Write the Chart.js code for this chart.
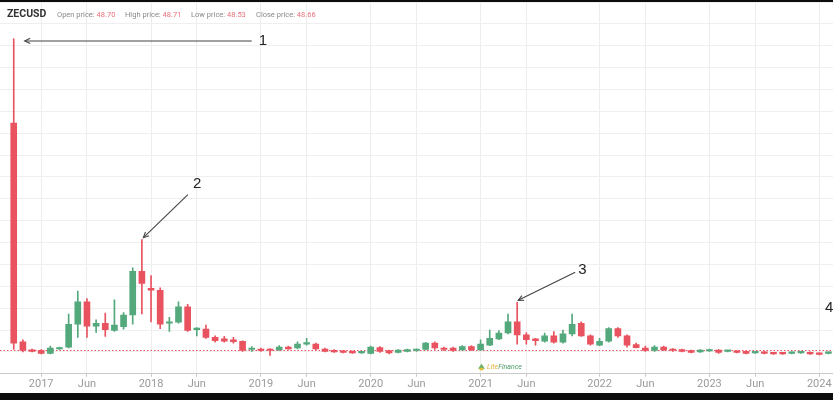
<!DOCTYPE html>
<html>
<head>
<meta charset="utf-8">
<script src="https://cdn.jsdelivr.net/npm/chart.js@4.4.1/dist/chart.umd.min.js"></script>
<style>
html, body { margin: 0; background: #0d0d0d; }
#frame { position: absolute; left: 0; top: 2px; width: 833px; height: 391px; background: #fff; overflow: hidden; }
#chart { position: absolute; left: 0; top: 0; }
#hdr { position: absolute; left: 0; top: 0; width: 100%; height: 20px; font-family: Roboto, sans-serif; z-index: 2; }
#hdr b { position: absolute; left: 7px; top: 5px; font-size: 10.5px; color: #333; }
#hdr span { position: absolute; top: 8px; font-size: 7.5px; color: #8a8a8a; white-space: nowrap; }
#hdr em { font-style: normal; color: #e8727c; }
</style>
</head>
<body>
<div id="frame">
  <canvas id="chart" width="833" height="391"></canvas>
  <div id="hdr"><b>ZECUSD</b></div>
</div>
<script>
// --- Donnees (mensuel, ZECUSD) ---
const months = [
  '2016-09','2016-10','2016-11','2016-12',
  '2017-01','2017-02','2017-03','2017-04','2017-05','2017-06','2017-07','2017-08','2017-09','2017-10','2017-11','2017-12',
  '2018-01','2018-02','2018-03','2018-04','2018-05','2018-06','2018-07','2018-08','2018-09','2018-10','2018-11','2018-12',
  '2019-01','2019-02','2019-03','2019-04','2019-05','2019-06','2019-07','2019-08','2019-09','2019-10','2019-11','2019-12',
  '2020-01','2020-02','2020-03','2020-04','2020-05','2020-06','2020-07','2020-08','2020-09','2020-10','2020-11','2020-12',
  '2021-01','2021-02','2021-03','2021-04','2021-05','2021-06','2021-07','2021-08','2021-09','2021-10','2021-11','2021-12','2021-12b',
  '2022-01','2022-02','2022-03','2022-04','2022-05','2022-06','2022-07','2022-08','2022-09','2022-10','2022-11','2022-12',
  '2023-01','2023-02','2023-03','2023-04','2023-05','2023-06','2023-07','2023-08','2023-09','2023-10','2023-11','2023-12',
  '2024-01','2024-02'
];

const opens = [null,
  516,66,49,48,42,51,55,102,148,98,
  104,89,97,121,211,176,172,104,106,138,
  91,92,75,72,70,67,50,51,51,49,
  55,53,61,61,51,48,47,46,43,42,
  54,48,44,46,48,50,63,52,53,49,
  56,49,59,72,84,107,80,72,67,78,
  65,82,104,78,59,67,93,78,60,53,
  48,55,51,50,48,45,47,49,46,47,
  46,43,45,42,42,42,43,44,42,42];
const highs = [null,
  689,70,51,50,57,55,123,170,155,111,
  125,152,126,218,276,202,177,116,148,143,
  95,100,78,77,75,68,56,53,52,58,
  57,66,73,63,53,50,48,47,46,57,
  56,49,50,51,51,65,66,55,55,58,
  58,70,90,89,123,147,85,73,84,87,
  90,123,107,80,73,95,95,80,63,57,
  58,57,52,51,49,50,51,50,48,48,
  47,46,46,43,43,45,46,45,43,45];
const lows = [null,
  50,45,45,41,41,50,53,75,75,85,
  77,87,92,102,123,107,93,87,104,87,
  78,73,65,65,63,46,46,46,38,48,
  50,51,59,49,45,44,43,42,42,41,
  44,41,43,45,46,49,50,48,46,48,
  48,48,58,70,82,61,61,59,65,63,
  63,78,77,59,58,65,75,55,53,46,
  46,48,46,45,43,44,46,42,45,43,
  41,42,41,40,40,41,42,40,39,41];
const closes = [null,
  63,48,46,42,53,54,102,148,98,104,
  91,100,121,211,186,172,102,107,138,89,
  93,75,68,67,66,48,52,48,48,55,
  51,61,63,51,46,45,44,43,45,55,
  46,43,49,50,49,63,53,50,48,56,
  49,61,73,84,107,80,70,68,78,65,
  82,102,78,61,67,93,78,59,54,48,
  55,49,48,46,44,49,50,44,47,44,
  42,45,42,41,41,44,44,41,40,44];

const tickMonths = ['2017-01','2017-06','2018-01','2018-06','2019-01','2019-06','2020-01','2020-06',
                    '2021-01','2021-06','2022-01','2022-06','2023-01','2023-06','2024-01'];
const tickLabels = ['2017','Jun','2018','Jun','2019','Jun','2020','Jun',
                    '2021','Jun','2022','Jun','2023','Jun','2024'];

const headerLabels = ['Open price:', 'High price:', 'Low price:', 'Close price:'];
const headerValues = ['48.70', '48.71', '48.53', '48.66'];
const headerLeft = [57, 125, 191, 256];
const lastClose = 48.66;

// fleches : mois vise, decalages (px) depuis le plus haut de la bougie
const notes = [
  { label: '1', month: '2016-10', tip: [11, 2], tail: [238, 2], text: [245, 2] },
  { label: '2', month: '2017-12', tip: [1.5, -2], tail: [46, -45], text: [51, -56] },
  { label: '3', month: '2021-05', tip: [1, -2], tail: [58, -30], text: [61, -32] },
  { label: '4', month: '2024-02', tip: null, tail: null, text: [-3.5, -44] }
];

const UP = '#53a97c', DOWN = '#e8535f';
function candleColor(i) { return closes[i] >= opens[i] ? UP : DOWN; }

// --- En-tete ---
const hdr = document.getElementById('hdr');
headerLabels.forEach((l, i) => {
  const s = document.createElement('span');
  s.style.left = headerLeft[i] + 'px';
  s.innerHTML = `${l} <em>${headerValues[i]}</em>`;
  hdr.appendChild(s);
});

// --- Plugins ---
const priceLine = {
  id: 'priceLine',
  beforeDatasetsDraw(chart) {
    const { ctx, chartArea: a, scales: { y } } = chart;
    const py = Math.round(y.getPixelForValue(lastClose)) + 0.5;
    ctx.save();
    ctx.strokeStyle = DOWN; ctx.lineWidth = 1; ctx.setLineDash([1.5, 2]);
    ctx.beginPath(); ctx.moveTo(a.left, py); ctx.lineTo(a.right, py); ctx.stroke();
    ctx.restore();
  }
};

const watermark = {
  id: 'watermark',
  beforeDatasetsDraw(chart) {
    const { ctx, chartArea: a } = chart;
    const x = a.left + 478, y = a.bottom - 7;
    ctx.save();
    ctx.fillStyle = '#6bb36f';
    ctx.beginPath(); ctx.moveTo(x, y + 2); ctx.lineTo(x + 3.5, y - 3); ctx.lineTo(x + 7, y + 2); ctx.closePath(); ctx.fill();
    ctx.fillStyle = '#e2bd3a';
    ctx.fillRect(x + 1.5, y + 1, 4, 2.5);
    ctx.font = 'italic 7px Roboto, sans-serif';
    ctx.textBaseline = 'middle';
    ctx.fillStyle = '#e2b43a'; ctx.fillText('Lite', x + 9, y);
    ctx.fillStyle = '#4d9a68'; ctx.fillText('Finance', x + 9 + ctx.measureText('Lite').width, y);
    ctx.restore();
  }
};

const arrows = {
  id: 'arrows',
  afterDraw(chart) {
    const { ctx, scales: { x, y } } = chart;
    ctx.save();
    ctx.strokeStyle = '#444'; ctx.fillStyle = '#222'; ctx.lineWidth = 1.1;
    ctx.font = '15px "Liberation Sans", Arial, sans-serif';
    ctx.textBaseline = 'middle'; ctx.textAlign = 'left';
    notes.forEach(n => {
      const i = months.indexOf(n.month);
      const hx = x.getPixelForValue(i), hy = y.getPixelForValue(highs[i]);
      if (n.tip) {
        const tx = hx + n.tip[0], ty = hy + n.tip[1];
        const sx = hx + n.tail[0], sy = hy + n.tail[1];
        const ang = Math.atan2(sy - ty, sx - tx);
        ctx.beginPath(); ctx.moveTo(sx, sy); ctx.lineTo(tx, ty); ctx.stroke();
        ctx.beginPath();
        ctx.moveTo(tx + 6 * Math.cos(ang + 0.45), ty + 6 * Math.sin(ang + 0.45));
        ctx.lineTo(tx, ty);
        ctx.lineTo(tx + 6 * Math.cos(ang - 0.45), ty + 6 * Math.sin(ang - 0.45));
        ctx.stroke();
      }
      ctx.fillText(n.label, hx + n.text[0], hy + n.text[1]);
    });
    ctx.restore();
  }
};

function isTick(i) { return tickMonths.indexOf(months[i]) >= 0; }

new Chart(document.getElementById('chart'), {
  type: 'bar',
  data: {
    labels: months,
    datasets: [
      {
        label: 'wick',
        data: lows.map((l, i) => l == null ? null : [l, highs[i]]),
        backgroundColor: c => candleColor(c.dataIndex),
        barThickness: 1,
        grouped: false,
        order: 2
      },
      {
        label: 'body',
        data: opens.map((o, i) => o == null ? null : [o, closes[i]]),
        backgroundColor: c => candleColor(c.dataIndex),
        barThickness: 6,
        minBarLength: 1.5,
        grouped: false,
        order: 1
      }
    ]
  },
  options: {
    responsive: false,
    animation: false,
    layout: { padding: { left: 0, right: 0, top: 0, bottom: 1 } },
    plugins: { legend: { display: false }, tooltip: { enabled: false } },
    scales: {
      x: {
        grid: {
          offset: false,
          color: c => isTick(c.index) ? '#ededed' : 'rgba(0,0,0,0)',
          tickColor: c => isTick(c.index) ? '#c9c9c9' : 'rgba(0,0,0,0)',
          tickLength: 3
        },
        border: { color: '#c9c9c9', width: 1 },
        ticks: {
          autoSkip: false, maxRotation: 0, padding: 1,
          color: '#9a9a9a', font: { family: 'Roboto', size: 11 },
          callback: (v, i) => { const k = tickMonths.indexOf(months[i]); return k >= 0 ? tickLabels[k] : ''; }
        }
      },
      y: {
        min: 0, max: 765,
        ticks: { display: false, stepSize: 45 },
        grid: { color: '#efefef', drawTicks: false },
        border: { display: false }
      }
    }
  },
  plugins: [priceLine, watermark, arrows]
});
</script>
</body>
</html>
